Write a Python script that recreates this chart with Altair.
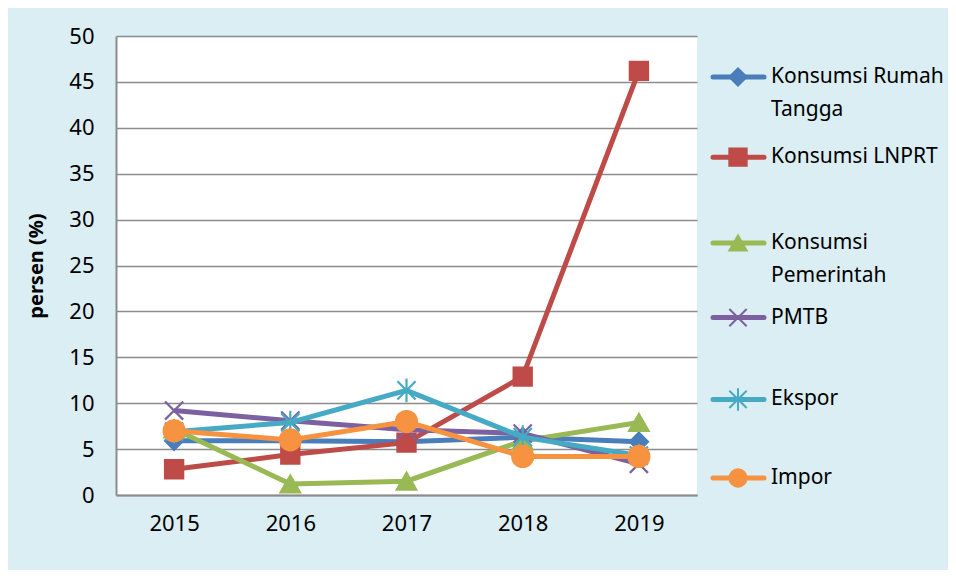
import altair as alt
import pandas as pd

years = ["2015", "2016", "2017", "2018", "2019"]
series = ["Konsumsi Rumah Tangga", "Konsumsi LNPRT", "Konsumsi Pemerintah", "PMTB", "Ekspor", "Impor"]
label_line1 = ["Konsumsi Rumah", "Konsumsi LNPRT", "Konsumsi", "PMTB", "Ekspor", "Impor"]
label_line2 = ["Tangga", "", "Pemerintah", "", "", ""]
legend_row = [0, 1, 2.07, 3, 4.02, 5]

rt = [5.9, 5.9, 5.8, 6.3, 5.8]
lnprt = [2.8, 4.4, 5.7, 12.9, 46.2]
pemerintah = [7.2, 1.2, 1.5, 5.9, 7.9]
pmtb = [9.2, 8.1, 7.1, 6.7, 3.4]
ekspor = [6.9, 7.9, 11.4, 6.3, 4.3]
impor = [7.0, 6.0, 8.0, 4.2, 4.2]

colors = ["#4A7EBB", "#BE4B48", "#98B954", "#7D60A0", "#46AAC5", "#F69240"]
shapes = [
    "diamond",
    "square",
    "triangle-up",
    "M-1,-1L1,1M-1,1L1,-1",
    "M-1,-1L1,1M-1,1L1,-1M0,-1.3L0,1.3",
    "circle",
]
sizes = [330, 330, 380, 330, 330, 440]

values = [rt, lnprt, pemerintah, pmtb, ekspor, impor]
rows = []
for s, vals in zip(series, values):
    for y, v in zip(years, vals):
        rows.append({"series": s, "year": y, "value": v})
df = pd.DataFrame(rows)

legend_df = pd.DataFrame({"series": series, "l1": label_line1, "l2": label_line2,
                          "row": legend_row})

FONT = "Noto Sans"

x_enc = alt.X(
    "year:O",
    title=None,
    scale=alt.Scale(domain=years, paddingInner=1, paddingOuter=0.5),
    axis=alt.Axis(labelAngle=0, labelFontSize=22, labelFont=FONT, labelColor="#000000",
                  labelPadding=18, ticks=False, domainColor="#8c8c8c", domainWidth=2,
                  grid=False),
)
y_enc = alt.Y(
    "value:Q",
    title="persen (%)",
    scale=alt.Scale(domain=[0, 50], nice=False),
    axis=alt.Axis(values=list(range(0, 51, 5)), labelFontSize=22, labelFont=FONT,
                  labelColor="#000000", labelPadding=22, ticks=False,
                  domainColor="#8c8c8c", domainWidth=2, gridColor="#8c8c8c",
                  gridWidth=1.6, titleFont=FONT, titleFontSize=20,
                  titleFontWeight="bold", titleColor="#000000", titlePadding=22),
)

layers = []
for s, c, sh, sz in zip(series, colors, shapes, sizes):
    base = alt.Chart(df).transform_filter(alt.datum.series == s)
    line = base.mark_line(color=c, strokeWidth=5).encode(x=x_enc, y=y_enc)
    pts = base.mark_point(shape=sh, size=sz, filled=True, fill=c, stroke=c,
                          strokeWidth=2.2, opacity=1).encode(x=x_enc, y=y_enc)
    layers += [line, pts]

# legend rows: row 0 at 41px, row 5 at 442px below the plot top
leg_y = alt.Y("row:Q", scale=alt.Scale(domain=[-0.511, 5.212], reverse=True, nice=False,
                                       zero=False), axis=None)
leg_color = alt.Color("series:N", scale=alt.Scale(domain=series, range=colors), legend=None)
leg_shape = alt.Shape("series:N", scale=alt.Scale(domain=series, range=shapes), legend=None)
leg_base = alt.Chart(legend_df)

leg_rule = leg_base.mark_rule(strokeWidth=5, strokeCap="round").encode(
    x=alt.value(597), x2=alt.value(648), y=leg_y, color=leg_color)
leg_pts = leg_base.mark_point(filled=True, size=300, strokeWidth=2, opacity=1).encode(
    x=alt.value(622), y=leg_y, color=leg_color, shape=leg_shape,
    stroke=alt.Stroke("series:N", scale=alt.Scale(domain=series, range=colors), legend=None))
leg_t1 = leg_base.mark_text(align="left", baseline="middle", font=FONT, fontSize=21,
                            color="#000000").encode(x=alt.value(655), y=leg_y, text="l1:N")
leg_t2 = leg_base.mark_text(align="left", baseline="middle", font=FONT, fontSize=21,
                            color="#000000", dy=33).encode(x=alt.value(655), y=leg_y, text="l2:N")

legend_layer = alt.layer(leg_rule, leg_pts, leg_t1, leg_t2)

chart = alt.layer(alt.layer(*layers), legend_layer).resolve_scale(
    y="independent", color="independent", shape="independent", stroke="independent"
).properties(
    width=581,
    height=459,
    background="#DAEEF3",
    padding={"left": 108, "top": 28, "right": 251, "bottom": 75},
    autosize=alt.AutoSizeParams(type="none"),
).configure_view(fill="#FFFFFF", stroke=None)

chart.save("out.html", embed_options={"renderer": "svg", "actions": False})
